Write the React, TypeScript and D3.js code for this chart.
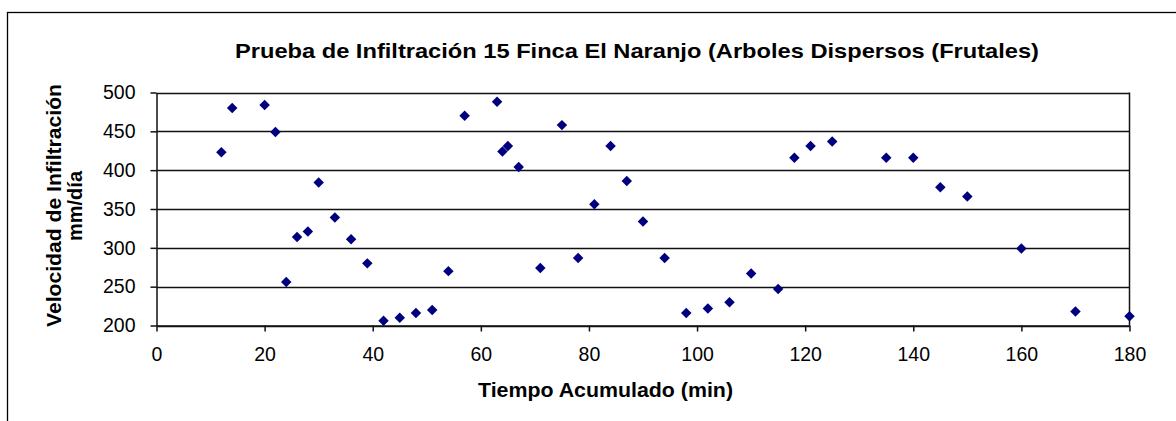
import React, { useEffect, useRef } from 'react';
import * as d3 from 'd3';

// tiempo acumulado (min) and velocidad de infiltración (mm/día)
const tiempo = [12, 14, 20, 22, 24, 26, 28, 30, 33, 36, 39, 42, 45, 48, 51, 54, 57, 63, 64, 65, 67, 71, 75, 78, 81, 84, 87, 90, 94, 98, 102, 106, 110, 115, 118, 121, 125, 135, 140, 145, 150, 160, 170, 180];
const velocidad = [423, 480, 484, 449, 256, 314, 321, 384, 339, 311, 280, 206, 210, 216, 220, 270, 470, 488, 424, 431, 404, 274, 458, 287, 356, 431, 386, 334, 287, 216, 222, 230, 267, 247, 416, 431, 437, 416, 416, 378, 366, 299, 218, 212];
const xTicks = [0, 20, 40, 60, 80, 100, 120, 140, 160, 180];
const yTicks = [200, 250, 300, 350, 400, 450, 500];

const W = 1176;
const H = 421;
const plot = { left: 156.5, right: 1129.5, top: 92.5, bottom: 325.5 };
const font = 'Arial, "Liberation Sans", sans-serif';

function App() {
  const ref = useRef<SVGSVGElement>(null);

  useEffect(() => {
    if (!ref.current) return;
    const svg = d3.select(ref.current);
    svg.selectAll('*').remove();

    const x = d3.scaleLinear().domain([0, 180]).range([plot.left, plot.right]);
    const y = d3.scaleLinear().domain([200, 500]).range([plot.bottom, plot.top]);

    // outer chart frame (right/bottom edges fall outside the picture)
    svg.append('rect')
      .attr('x', 7.5).attr('y', 12.5)
      .attr('width', W).attr('height', H)
      .attr('fill', '#fff')
      .attr('stroke', '#000').attr('stroke-width', 1.3);

    // horizontal grid
    svg.append('g').selectAll('line')
      .data(yTicks)
      .enter().append('line')
      .attr('x1', plot.left).attr('x2', plot.right)
      .attr('y1', d => Math.round(y(d)) + 0.5).attr('y2', d => Math.round(y(d)) + 0.5)
      .style('stroke', '#111').style('stroke-width', 1.5);

    // right edge of plot area
    svg.append('line')
      .attr('x1', plot.right).attr('x2', plot.right)
      .attr('y1', plot.top).attr('y2', plot.bottom)
      .style('stroke', '#111').style('stroke-width', 1.5);

    const xAxis = svg.append('g')
      .attr('transform', `translate(0,${plot.bottom})`)
      .call(d3.axisBottom(x).tickValues(xTicks).tickSizeInner(6).tickSizeOuter(0).tickPadding(16));
    const yAxis = svg.append('g')
      .attr('transform', `translate(${plot.left},0)`)
      .call(d3.axisLeft(y).tickValues(yTicks).tickSizeInner(6).tickSizeOuter(0).tickPadding(15));

    [xAxis, yAxis].forEach(g => {
      g.selectAll('path, line').style('stroke', '#111').style('stroke-width', 1.5);
      g.selectAll('text')
        .style('font-family', font).style('font-size', '19.5px').style('fill', '#000');
    });

    // markers
    svg.append('g').selectAll('path')
      .data(tiempo.map((t, i) => [t, velocidad[i]]))
      .enter().append('path')
      .attr('d', d3.symbol().type(d3.symbolDiamond2).size(70)())
      .attr('transform', d => `translate(${x(d[0])},${y(d[1])})`)
      .attr('fill', '#00007f');

    svg.append('text')
      .attr('x', 235).attr('y', 58)
      .attr('textLength', 804).attr('lengthAdjust', 'spacingAndGlyphs')
      .style('font-family', font).style('font-size', '21px').style('font-weight', 'bold')
      .text('Prueba de Infiltración 15 Finca El Naranjo (Arboles Dispersos (Frutales)');

    svg.append('text')
      .attr('x', 478).attr('y', 397)
      .attr('textLength', 255).attr('lengthAdjust', 'spacingAndGlyphs')
      .style('font-family', font).style('font-size', '21px').style('font-weight', 'bold')
      .text('Tiempo Acumulado (min)');

    const yl = svg.append('g')
      .attr('transform', 'translate(0,206) rotate(-90)')
      .style('font-family', font).style('font-size', '20px').style('font-weight', 'bold');
    yl.append('text').attr('x', -121).attr('y', 61)
      .attr('textLength', 243).attr('lengthAdjust', 'spacingAndGlyphs')
      .text('Velocidad de Infiltración');
    yl.append('text').attr('x', 0).attr('y', 82)
      .attr('text-anchor', 'middle')
      .text('mm/día');
  }, []);

  return (
    <svg ref={ref} width={W} height={H}
      style={{ position: 'absolute', left: 0, top: 0, background: '#fff' }} />
  );
}

export default App;
